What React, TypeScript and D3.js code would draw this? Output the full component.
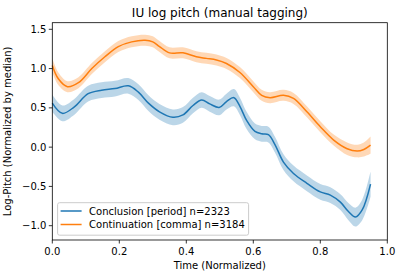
import * as d3 from "d3";

const conclusionT = [0, 0.03, 0.065, 0.107, 0.147, 0.187, 0.227, 0.257, 0.287, 0.32, 0.36, 0.39, 0.42, 0.446, 0.47, 0.498, 0.52, 0.542, 0.56, 0.58, 0.605, 0.625, 0.645, 0.665, 0.69, 0.72, 0.76, 0.8, 0.83, 0.86, 0.884, 0.905, 0.925, 0.95];
const conclusionV = [0.56, 0.43, 0.51, 0.68, 0.725, 0.745, 0.78, 0.7, 0.56, 0.45, 0.38, 0.41, 0.53, 0.6, 0.55, 0.505, 0.58, 0.63, 0.52, 0.34, 0.2, 0.17, 0.16, 0.03, -0.19, -0.335, -0.46, -0.57, -0.61, -0.7, -0.82, -0.89, -0.8, -0.47];
const conclusionCI = [0.11, 0.1, 0.1, 0.1, 0.1, 0.1, 0.1, 0.1, 0.1, 0.1, 0.1, 0.1, 0.1, 0.1, 0.1, 0.1, 0.1, 0.11, 0.11, 0.11, 0.1, 0.1, 0.1, 0.1, 0.1, 0.1, 0.1, 0.1, 0.1, 0.1, 0.11, 0.12, 0.13, 0.16];

const continuationT = [0, 0.018, 0.045, 0.078, 0.118, 0.157, 0.197, 0.237, 0.277, 0.3, 0.32, 0.35, 0.39, 0.43, 0.46, 0.49, 0.52, 0.56, 0.6, 0.625, 0.65, 0.69, 0.72, 0.76, 0.8, 0.84, 0.88, 0.91, 0.93, 0.95];
const continuationV = [1.04, 0.87, 0.77, 0.82, 1.0, 1.15, 1.28, 1.34, 1.36, 1.34, 1.28, 1.2, 1.2, 1.15, 1.13, 1.11, 1.065, 0.95, 0.77, 0.66, 0.63, 0.66, 0.62, 0.45, 0.26, 0.09, -0.02, -0.05, -0.03, 0.025];
const continuationCI = [0.09, 0.08, 0.07, 0.07, 0.07, 0.07, 0.07, 0.07, 0.07, 0.07, 0.07, 0.07, 0.07, 0.07, 0.07, 0.07, 0.07, 0.07, 0.07, 0.07, 0.07, 0.07, 0.07, 0.07, 0.07, 0.07, 0.08, 0.08, 0.09, 0.11];

const xTicks = [0, 0.2, 0.4, 0.6, 0.8, 1.0];
const yTicks = [-1.0, -0.5, 0.0, 0.5, 1.0, 1.5];

const seriesLabels = ["Conclusion [period] n=2323", "Continuation [comma] n=3184"];
const colors = ["#1f77b4", "#ff7f0e"];

const font = "'DejaVu Sans', sans-serif";

export default function App() {
  const width = 402;
  const height = 278;
  const margin = { top: 22.7, right: 14.7, bottom: 38, left: 52.3 };
  const innerWidth = width - margin.left - margin.right;
  const innerHeight = height - margin.top - margin.bottom;

  const xScale = d3.scaleLinear().domain([0, 1]).range([0, innerWidth]);
  const yScale = d3.scaleLinear().domain([-1.182, 1.584]).range([innerHeight, 0]);

  const series = [
    { t: conclusionT, v: conclusionV, ci: conclusionCI },
    { t: continuationT, v: continuationV, ci: continuationCI },
  ];

  return (
    <svg
      width={width}
      height={height}
      style={{ position: "absolute", left: 0, top: 0, background: "white", fontFamily: font }}
    >
      <text x={margin.left + innerWidth / 2} y={17} textAnchor="middle" style={{ fontFamily: font }} fontSize={12}>
        IU log pitch (manual tagging)
      </text>
      <g transform={`translate(${margin.left},${margin.top})`} style={{ fontFamily: font }}>
        {series.map((s, k) => {
          const idx = s.t.map((_, i) => i);
          const area = d3
            .area<number>()
            .x((i) => xScale(s.t[i]))
            .y0((i) => yScale(s.v[i] - s.ci[i]))
            .y1((i) => yScale(s.v[i] + s.ci[i]))
            .curve(d3.curveCatmullRom.alpha(0.5));
          const path = d3
            .line<number>()
            .x((i) => xScale(s.t[i]))
            .y((i) => yScale(s.v[i]))
            .curve(d3.curveCatmullRom.alpha(0.5));
          return (
            <g key={k}>
              <path d={area(idx) ?? ""} fill={colors[k]} fillOpacity={0.3} stroke="none" />
              <path d={path(idx) ?? ""} fill="none" stroke={colors[k]} strokeWidth={1.5} />
            </g>
          );
        })}

        {/* legend */}
        <g transform="translate(5.3,180)">
          <rect x={0} y={0} width={191} height={32.5} rx={2} fill="white" fillOpacity={0.8} stroke="#cccccc" strokeWidth={1} />
          {seriesLabels.map((label, i) => (
            <g key={label} transform={`translate(0,${8.3 + i * 13.5})`}>
              <line x1={3} x2={24} y1={0} y2={0} stroke={colors[i]} strokeWidth={1.5} />
              <text x={31.5} y={3.8} fontSize={10} fill="#000">
                {label}
              </text>
            </g>
          ))}
        </g>

        {/* axes frame */}
        <rect x={0} y={0} width={innerWidth} height={innerHeight} fill="none" stroke="#000" strokeWidth={0.8} />

        {xTicks.map((t) => (
          <g key={t} transform={`translate(${xScale(t)},${innerHeight})`}>
            <line y1={0} y2={3.5} stroke="#000" strokeWidth={0.8} />
            <text y={15} textAnchor="middle" fontSize={10}>
              {t.toFixed(1)}
            </text>
          </g>
        ))}
        {yTicks.map((t) => (
          <g key={t} transform={`translate(0,${yScale(t)})`}>
            <line x1={0} x2={-3.5} stroke="#000" strokeWidth={0.8} />
            <text x={-6} y={3.6} textAnchor="end" fontSize={10}>
              {t.toFixed(1).replace("-", "\u2212")}
            </text>
          </g>
        ))}

        <text x={innerWidth / 2} y={innerHeight + 29} textAnchor="middle" fontSize={10}>
          Time (Normalized)
        </text>
        <text
          transform={`translate(${-41},${innerHeight / 2}) rotate(-90)`}
          textAnchor="middle"
          fontSize={10}
        >
          Log-Pitch (Normalized by median)
        </text>
      </g>
    </svg>
  );
}
